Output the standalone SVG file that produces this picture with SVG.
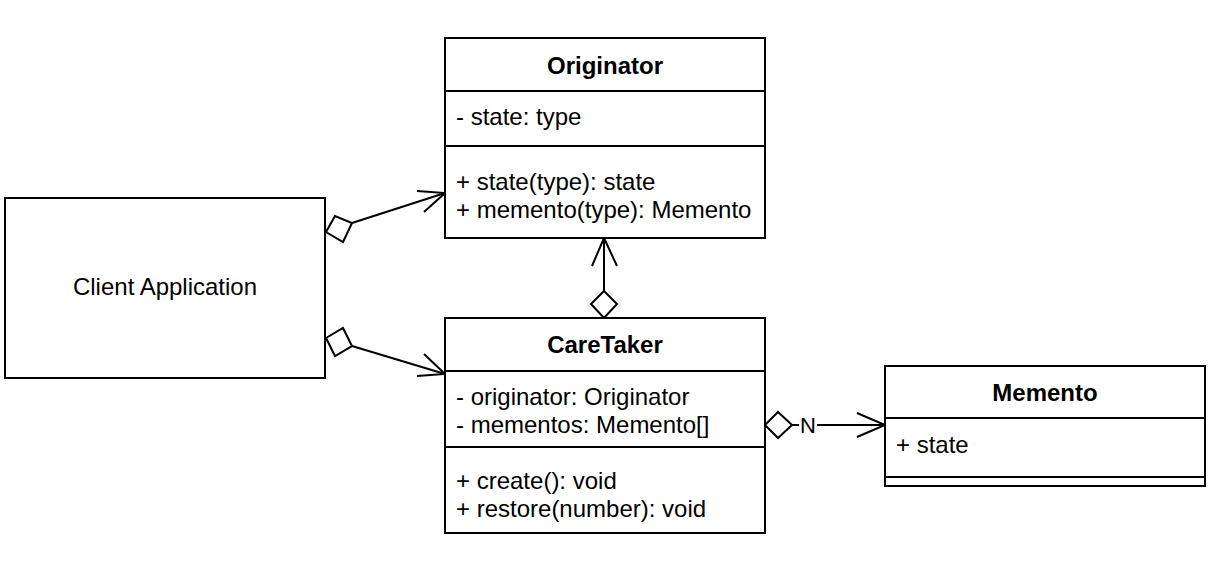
<svg xmlns="http://www.w3.org/2000/svg" width="1224" height="570" viewBox="0 0 1224 570">
<style>
  .box{fill:#fff;stroke:#000;stroke-width:2}
  .ln{fill:none;stroke:#000;stroke-width:2}
  .t{font-family:"Liberation Sans",Arial,Helvetica,sans-serif;font-size:24px;fill:#000}
  .b{font-weight:bold}
  .c{text-anchor:middle}
  .dia{fill:#fff;stroke:#000;stroke-width:2}
</style>
<rect width="1224" height="570" fill="#fff"/>
<g id="connectors">
  <!-- Client -> Originator -->
  <path class="ln" d="M352 223 L445 193"/>
  <path class="ln" d="M417 191 L445 193 L424 212"/>
  <path class="dia" d="M326 232 L335 216 L352 223 L343 242 Z"/>
  <!-- Client -> CareTaker -->
  <path class="ln" d="M352 346 L445 374"/>
  <path class="ln" d="M424 354 L445 374 L417 376"/>
  <path class="dia" d="M326 338 L343 328 L352 346 L335 356 Z"/>
  <!-- CareTaker -> Originator -->
  <path class="ln" d="M604 291 L604 238"/>
  <path class="ln" d="M592 266 L604 238 L617 266"/>
  <path class="dia" d="M604 291 L617 304 L604 318 L591 304 Z"/>
  <!-- CareTaker -> Memento -->
  <path class="ln" d="M792 425 L885 425"/>
  <path class="ln" d="M857 413 L885 425 L857 437"/>
  <path class="dia" d="M765 425 L778 412 L792 425 L778 438 Z"/>
  <rect x="799" y="413" width="18" height="24" fill="#fff"/>
  <text class="t c" x="808" y="433" style="font-size:22px">N</text>
</g>
<g id="client">
  <rect class="box" x="5" y="198" width="320" height="180"/>
  <text class="t c" x="165" y="295">Client Application</text>
</g>
<g id="originator">
  <rect class="box" x="445" y="38" width="320" height="200"/>
  <path class="ln" d="M445 91 H765 M445 146 H765"/>
  <text class="t b c" x="605" y="74">Originator</text>
  <text class="t" x="456" y="125">- state: type</text>
  <text class="t" x="456" y="190">+ state(type): state</text>
  <text class="t" x="456" y="218">+ memento(type): Memento</text>
</g>
<g id="caretaker">
  <rect class="box" x="445" y="318" width="320" height="215"/>
  <path class="ln" d="M445 371 H765 M445 447 H765"/>
  <text class="t b c" x="605" y="353">CareTaker</text>
  <text class="t" x="456" y="405">- originator: Originator</text>
  <text class="t" x="456" y="433">- mementos: Memento[]</text>
  <text class="t" x="456" y="489">+ create(): void</text>
  <text class="t" x="456" y="517">+ restore(number): void</text>
</g>
<g id="memento">
  <rect class="box" x="885" y="366" width="320" height="120"/>
  <path class="ln" d="M885 418 H1205 M885 477 H1205"/>
  <text class="t b c" x="1045" y="401">Memento</text>
  <text class="t" x="896" y="453">+ state</text>
</g>
</svg>
